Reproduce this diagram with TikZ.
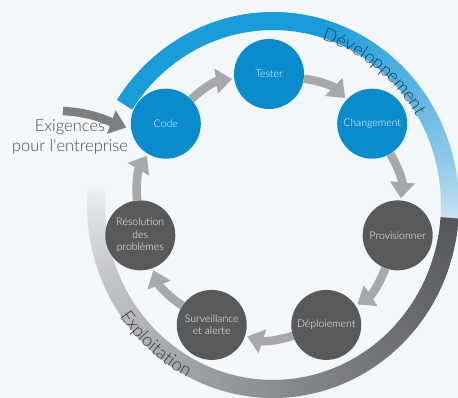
\documentclass[tikz,border=0pt]{standalone}
\usepackage{fontspec}
\setmainfont{Lato Light}
\usetikzlibrary{arrows.meta,decorations.text}

\definecolor{bgcol}{HTML}{F4F7F9}
\definecolor{bandblue}{HTML}{1A9CD8}
\definecolor{bandfade}{HTML}{D3E5F4}
\definecolor{opsband}{HTML}{55575A}
\definecolor{devblue}{HTML}{0A8BCB}
\definecolor{opsdark}{HTML}{58595B}
\definecolor{flowgrey}{HTML}{A6A8AB}
\definecolor{reqgrey}{HTML}{7E7F80}
\definecolor{labelgrey}{HTML}{4A4A4A}
\definecolor{devtext}{HTML}{22354A}
\definecolor{opstext}{HTML}{3A3A3A}

\def\ringrad{132pt}

\begin{document}
\begin{tikzpicture}[x=1pt,y=1pt]
    \tikzstyle{stage}=[circle,minimum size=70pt,inner sep=0pt,text=white,align=center,font=\fontsize{10.5}{12.5}\selectfont]
    \tikzstyle{dev stage}=[stage, fill=devblue];
    \tikzstyle{ops stage}=[stage, fill=opsdark];
    \tikzstyle{flow}=[draw=flowgrey, line width=8.5pt, -{Triangle[width=24pt,length=16pt]}, shorten >=2pt]
    \tikzstyle{band}=[line width=18pt]
    \tikzstyle{annot}=[text=labelgrey, align=center, font=\fontsize{16.5}{20}\selectfont]

    \fill[bgcol] (-269,-192) rectangle (189,206);
    \useasboundingbox (-269,-192) rectangle (189,206);

    % Outer bands, drawn as short pieces to get the fading
    \begin{scope}[shift={(4,1)}]
        \foreach \a in {147,146,...,-3} {
            \pgfmathsetmacro\mix{100*(min(1,(\a+4)/79))^0.7}
            \draw[band, draw=bandblue!\mix!bandfade] (\a:177pt and 184pt)
                arc[start angle=\a, delta angle=-1.3, x radius=177pt, y radius=184pt];
        }
        \foreach \a in {-4,-5,...,-184} {
            \pgfmathsetmacro\mix{100*((\a+185)/181)^0.65}
            \draw[band, draw=opsband!\mix!bgcol] (\a:177pt and 184pt)
                arc[start angle=\a, delta angle=-1.3, x radius=177pt, y radius=184pt];
        }

        % Band titles
        \path[decorate, decoration={text along path, text align=center, text color=devtext,
            text={|\fontsize{18}{18}\selectfont|Développement}}]
            (80:167pt and 173pt) arc[start angle=80, end angle=24, x radius=167pt, y radius=173pt];
        \path[decorate, decoration={text along path, text align=center, text color=opstext,
            text={|\fontsize{18}{18}\selectfont|Exploitation}}]
            (204:187pt and 194pt) arc[start angle=204, end angle=254, x radius=187pt, y radius=194pt];
    \end{scope}

    \node[dev stage] (D-1) at (141.43:\ringrad) {Code};
    \node[dev stage] (D-2) at (90:\ringrad) {Tester};
    \node[dev stage] (D-3) at (38.57:\ringrad) {Changement};
    \node[ops stage] (O-1) at (-12.86:\ringrad) {Provisionner};
    \node[ops stage] (O-2) at (-64.29:\ringrad) {Déploiement};
    \node[ops stage] (O-3) at (-115.71:\ringrad) {Surveillance\\et alerte};
    \node[ops stage] (O-4) at (-167.14:\ringrad) {Résolution\\des\\problèmes};

    % Go round the cycle
    \foreach \source/\dest in {D-1/D-2, D-2/D-3, D-3/O-1, O-1/O-2, O-2/O-3, O-3/O-4, O-4/D-1}
        \path (\source) edge[flow, bend left=18] (\dest);

    % Requirements coming in
    \node[annot] (req) at (-199,69) {Exigences\\pour l\textquotesingle entreprise};
    \coordinate (req-in) at (-206,95);
    \draw[flow, draw=reqgrey, shorten >=5pt] (req-in) to[out=-3,in=160] (D-1.189);

\end{tikzpicture}
\end{document}
